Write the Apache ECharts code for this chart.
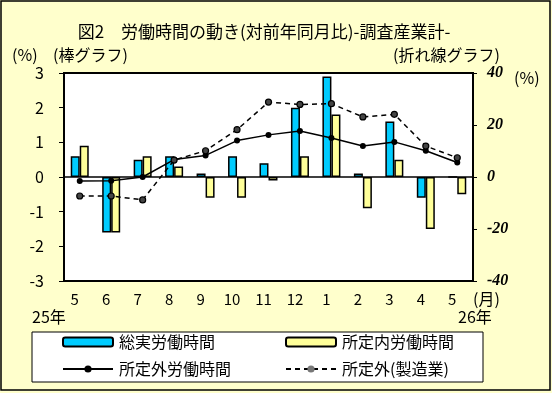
<!DOCTYPE html>
<html><head><meta charset="utf-8">
<script src="https://cdn.jsdelivr.net/npm/echarts@6/dist/echarts.min.js"></script>
<style>html,body{margin:0;padding:0;background:#FFFFCC;}#c{width:552px;height:393px;}</style>
</head><body><div id="c"></div>
<script>
const categories = ['5','6','7','8','9','10','11','12','1','2','3','4','5'];
const totalHours = [0.6,-1.6,0.5,0.6,0.1,0.6,0.4,2.0,2.9,0.1,1.6,-0.6,0.0];
const scheduledHours = [0.9,-1.6,0.6,0.3,-0.6,-0.6,-0.1,0.6,1.8,-0.9,0.5,-1.5,-0.5];
const overtimeHours = [-1.5,-1.4,0.0,6.7,8.3,14.0,16.2,17.7,15.0,11.9,13.5,10.1,5.6];
const overtimeMfg = [-7.3,-7.3,-8.8,6.5,10.1,18.2,28.8,27.9,28.2,23.1,24.1,11.9,7.4];
const leftTicks = {min:-3,max:3,interval:1};
const rightTicks = {min:-40,max:40,interval:20};
const names = ['総実労働時間','所定内労働時間','所定外労働時間','所定外(製造業)'];

const JP = '"Noto Sans CJK JP", sans-serif';
const chart = echarts.init(document.getElementById('c'));
const legendBase = {orient:'horizontal', itemWidth:50, itemHeight:9, itemGap:0, padding:0, z:10,
  textStyle:{fontFamily:JP, fontSize:16, color:'#000', padding:[0,0,0,1]}};
chart.setOption({
  backgroundColor:'#FFFFCC',
  animation:false,
  textStyle:{fontFamily:JP},
  grid:{left:64, right:79, top:73, bottom:112, show:true, backgroundColor:'#fff', borderColor:'#000', borderWidth:2, z:1},
  xAxis:{type:'category', data:categories, axisLine:{show:false}, axisTick:{show:false},
    axisLabel:{interval:0, fontSize:15, color:'#000', margin:11, fontFamily:JP, padding:[0,10,0,0]}},
  yAxis:[
    {type:'value', min:leftTicks.min, max:leftTicks.max, interval:leftTicks.interval, splitLine:{show:false},
     axisLine:{show:true, lineStyle:{color:'#000', width:2}}, axisTick:{show:true, length:5, lineStyle:{color:'#000'}},
     axisLabel:{fontSize:16, color:'#000', margin:20, fontFamily:JP}},
    {type:'value', min:rightTicks.min, max:rightTicks.max, interval:rightTicks.interval, splitLine:{show:false},
     axisLine:{show:true, lineStyle:{color:'#000', width:2}}, axisTick:{show:true, length:4, lineStyle:{color:'#000'}},
     axisLabel:{fontSize:16, color:'#000', margin:14, fontStyle:'italic', fontWeight:'bold', fontFamily:'"Liberation Serif", serif'}}
  ],
  legend:[
    Object.assign({}, legendBase, {data:[names[0]], left:62, top:334}),
    Object.assign({}, legendBase, {data:[names[1]], left:285, top:334}),
    Object.assign({}, legendBase, {data:[names[2]], left:62, top:361}),
    Object.assign({}, legendBase, {data:[names[3]], left:285, top:361, itemStyle:{color:'#777', borderWidth:0}})
  ],
  series:[
    {name:names[0], type:'bar', data:totalHours, barWidth:9, barGap:'0%', yAxisIndex:0,
     itemStyle:{color:'#00CCFF', borderColor:'#000', borderWidth:1.5},
     markLine:{silent:true, symbol:'none', label:{show:false}, lineStyle:{color:'#000', width:1.5, type:'solid'}, data:[{yAxis:0}]}},
    {name:names[1], type:'bar', data:scheduledHours, barWidth:9, barGap:'0%', yAxisIndex:0,
     itemStyle:{color:'#FFFF99', borderColor:'#000', borderWidth:1.5}},
    {name:names[2], type:'line', data:overtimeHours, yAxisIndex:1, symbol:'circle', symbolSize:6,
     itemStyle:{color:'#000'}, lineStyle:{color:'#000', width:1.5}, z:5},
    {name:names[3], type:'line', data:overtimeMfg, yAxisIndex:1, symbol:'circle', symbolSize:6,
     itemStyle:{color:'#444', borderColor:'#000', borderWidth:1.2}, lineStyle:{color:'#000', width:1.5, type:[5,4]}, z:5}
  ],
  graphic:[
    {type:'rect', shape:{x:1, y:1, width:549, height:389}, style:{fill:'none', stroke:'#000', lineWidth:1.5}, z:0},
    {type:'rect', shape:{x:32, y:332, width:451, height:50}, style:{fill:'#fff', stroke:'#000', lineWidth:1}, z:1},
    {type:'text', x:264, y:32, style:{text:'図2　労働時間の動き(対前年同月比)-調査産業計-', font:'17px '+JP, fill:'#000', textAlign:'center', textVerticalAlign:'middle'}},
    {type:'text', x:12, y:55, style:{text:'(%)', font:'16px '+JP, fill:'#000', textVerticalAlign:'middle'}},
    {type:'text', x:53, y:55, style:{text:'(棒グラフ)', font:'16px '+JP, fill:'#000', textVerticalAlign:'middle'}},
    {type:'text', x:393, y:55, style:{text:'(折れ線グラフ)', font:'16px '+JP, fill:'#000', textVerticalAlign:'middle'}},
    {type:'text', x:514, y:78, style:{text:'(%)', font:'16px '+JP, fill:'#000', textVerticalAlign:'middle'}},
    {type:'text', x:473, y:299, style:{text:'(月)', font:'16px '+JP, fill:'#000', textVerticalAlign:'middle'}},
    {type:'text', x:32, y:317, style:{text:'25年', font:'16px '+JP, fill:'#000', textVerticalAlign:'middle'}},
    {type:'text', x:458, y:317, style:{text:'26年', font:'16px '+JP, fill:'#000', textVerticalAlign:'middle'}}
  ]
});
</script></body></html>
